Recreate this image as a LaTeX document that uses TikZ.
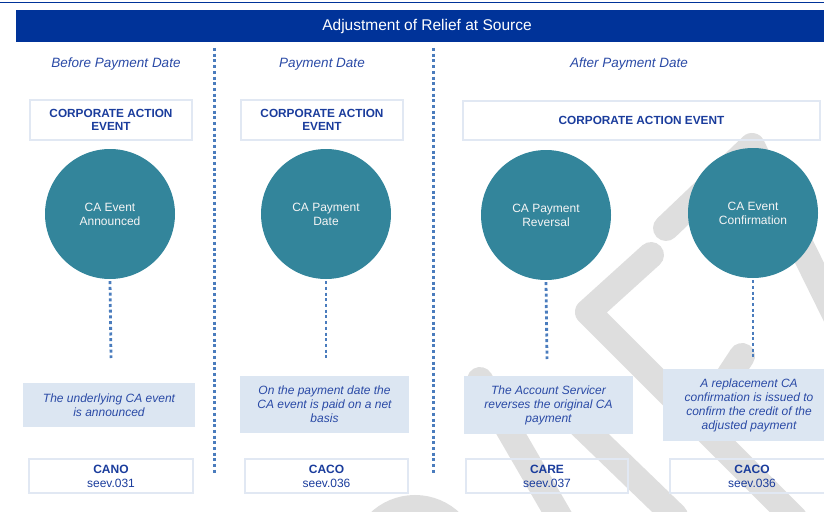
\documentclass[tikz,border=0pt]{standalone}
\usepackage{fontspec}
\setmainfont{Liberation Sans}
\usepackage{tikz}
\usetikzlibrary{positioning}
\definecolor{barblue}{HTML}{003399}
\definecolor{inkblue}{HTML}{1A3C9C}
\definecolor{textblue}{HTML}{2A4AA6}
\definecolor{dotblue}{HTML}{4A7CBD}
\definecolor{evteal}{HTML}{33859B}
\definecolor{paleblue}{HTML}{DCE6F2}
\definecolor{rimblue}{HTML}{E1E8F3}
\definecolor{wmark}{HTML}{DEDEDE}

\tikzset{
  phase/.style={font=\fontsize{13.5}{16}\selectfont\itshape, text=textblue},
  evbox/.style={draw=rimblue, line width=2pt, font=\fontsize{11.8}{13}\selectfont\bfseries,
                text=inkblue, align=center, minimum height=40pt, inner sep=0pt},
  evdot/.style={circle, fill=evteal, minimum size=130pt, inner sep=0pt, text=white!92!gray,
                font=\fontsize{12}{14}\selectfont, align=center},
  note/.style={fill=paleblue, text=textblue, font=\fontsize{12}{14}\selectfont\itshape,
               align=center, inner sep=0pt},
  msgbox/.style={draw=rimblue, line width=2pt, minimum height=34pt, align=center,
                 font=\fontsize{12}{14}\selectfont, text=inkblue, inner sep=0pt},
  stem/.style={dotblue, line width=2.8pt, dash pattern=on 3pt off 2.7pt},
  wband/.style={wmark, line width=26pt, line cap=round, line join=round},
}

\begin{document}
\begin{tikzpicture}[x=1pt, y=-1pt]
  \useasboundingbox (0,0) rectangle (824,511);

  % --- Watermark (behind) ---
  \begin{scope}
    \clip (0,0) rectangle (824,511);
    \draw[wband] (666,228) -- (752,146) -- (845,335);
    \draw[wband] (651,255) -- (588,312) -- (795,519);
    \draw[wband] (480,380) -- (560,518);
    \draw[wband] (560,405) -- (675,516);
    \draw[wband] (742,356) -- (700,420);
    \draw[wmark, line width=24pt] (415,560) circle[radius=53];
  \end{scope}

  % --- Title ---
  \draw[barblue, line width=1.5pt] (0,2.5) -- (824,2.5);
  \node[fill=barblue, minimum width=808pt, minimum height=32pt, inner sep=0pt, anchor=north west] (bar) at (16,10) {};
  \node[font=\fontsize{15.5}{18}\selectfont, text=white] (ttl) at (427,26) {Adjustment of Relief at Source};

  % Phase labels
  \node[phase] (phA) at (116,64) {Before Payment Date};
  \node[phase] (phB) at (322,64) {Payment Date};
  \node[phase] (phC) at (629,64) {After Payment Date};

  % Separators
  \draw[stem, line width=3pt] (214,48) -- (214,473);
  \draw[stem, line width=3pt] (433.5,48) -- (433.5,473);

  % Corporate action event boxes
  \node[evbox, minimum width=162pt] (hdA) at (111,120) {CORPORATE ACTION\\EVENT};
  \node[evbox, minimum width=162pt] (hdB) at (322,120) {CORPORATE ACTION\\EVENT};
  \node[evbox, minimum width=357pt, minimum height=39pt] (hdC) at (641.5,120.5) {CORPORATE ACTION EVENT};

  % Events
  \node[evdot] (evA) at (110,214) {CA Event\\Announced};
  \node[evdot] (evB) at (326,214) {CA Payment\\Date};
  \node[evdot] (evC) at (546,215) {CA Payment\\Reversal};
  \node[evdot] (evD) at (753,213) {CA Event\\Confirmation};

  % Stems
  \coordinate (stA) at (111,358);
  \coordinate (stB) at (326,358);
  \coordinate (stC) at (547,359);
  \coordinate (stD) at (753,358);
  \foreach \e/\s in {evA/stA, evB/stB, evC/stC, evD/stD}
    \draw[stem] ([yshift=-2pt]\e.south) -- (\s);

  % Descriptions
  \node[note, minimum width=172pt, minimum height=44pt] (dscA) at (109,405)
    {The underlying CA event\\is announced};
  \node[note, minimum width=169pt, minimum height=57pt] (dscB) at (324.5,404.5)
    {On the payment date the\\CA event is paid on a net\\basis};
  \node[note, minimum width=169pt, minimum height=58pt] (dscC) at (548.5,405)
    {The Account Servicer\\reverses the original CA\\payment};
  \node[note, minimum width=172pt, minimum height=72pt] (dscD) at (749,405)
    {A replacement CA\\confirmation is issued to\\confirm the credit of the\\adjusted payment};

  % Messages
  \node[msgbox, minimum width=164pt] (msgA) at (111,476) {\textbf{CANO}\\seev.031};
  \node[msgbox, minimum width=163pt] (msgB) at (326.5,476) {\textbf{CACO}\\seev.036};
  \node[msgbox, minimum width=162pt] (msgC) at (547,476) {\textbf{CARE}\\seev.037};
  \node[msgbox, minimum width=164pt] (msgD) at (752,476) {\textbf{CACO}\\seev.036};
\end{tikzpicture}
\end{document}
